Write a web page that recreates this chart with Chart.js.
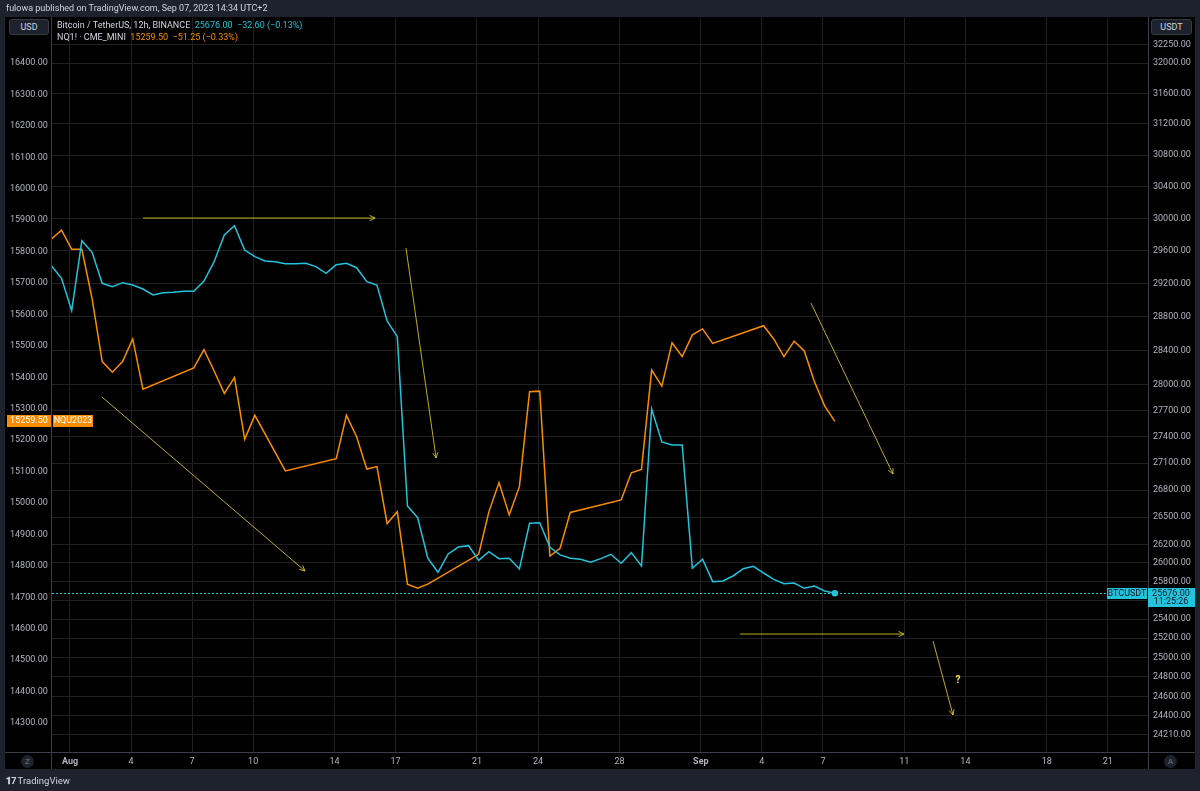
<!DOCTYPE html>
<html>
<head>
<meta charset="utf-8">
<script src="https://cdn.jsdelivr.net/npm/chart.js@4.4.0/dist/chart.umd.min.js"></script>
<style>
  body { margin: 0; background: #1e222d; font-family: Roboto, "Liberation Sans", Arial, sans-serif; }
  #wrap { position: relative; width: 1200px; height: 791px; overflow: hidden; }
  canvas { position: absolute; left: 0; top: 0; }
  .t { position: absolute; white-space: nowrap; font-size: 9px; line-height: 11px; color: #d1d4dc; }
  .box { position: absolute; border: 1px solid #363a45; background: #1e222d; border-radius: 3px;
         font-size: 9px; color: #d1d4dc; text-align: center; line-height: 14px; box-sizing: border-box; }
  .circ { position: absolute; width: 13px; height: 13px; border-radius: 50%; background: #1e222d;
          color: #787b86; font-size: 8px; line-height: 13px; text-align: center; }
</style>
</head>
<body>
<div id="wrap">
  <canvas id="chart" width="1200" height="791"></canvas>
  <div class="t" style="left:6px;top:3px;">fulowa published on TradingView.com, Sep 07, 2023 14:34 UTC+2</div>
  <div class="box" style="left:9px;top:19px;width:40px;height:16px;">USD</div>
  <div class="box" style="left:1151px;top:19px;width:41px;height:16px;">USDT</div>
  <div class="t" style="left:57px;top:20px;">Bitcoin / TetherUS, 12h, BINANCE&nbsp; <span style="color:#22c3dc">25676.00&nbsp; −32.60 (−0.13%)</span></div>
  <div class="t" style="left:57px;top:32px;">NQ1! · CME_MINI&nbsp; <span style="color:#fb8c00">15259.50&nbsp; −51.25 (−0.33%)</span></div>
  <div class="circ" style="left:21px;top:755px;">Z</div>
  <div class="circ" style="left:1164px;top:755px;">A</div>
  <div class="t" style="left:6px;top:775px;font-size:9.5px;"><b style="letter-spacing:-1px">𝟏7</b> TradingView</div>
</div>
<script>
// x values are days from Aug 1 00:00 (UTC+2); 12h bars start Jul 31 02:00
const firstBar = -0.917;
const barStep = 0.5;

// BTC/USDT 12h closes (right axis, log)
const btcClose = [29417, 29263, 28872, 29724, 29581, 29202, 29161, 29210, 29182, 29133,
  29061, 29089, 29094, 29105, 29105, 29230, 29466, 29794, 29909, 29609,
  29527, 29474, 29466, 29441, 29441, 29446, 29405, 29324, 29429, 29446,
  29392, 29222, 29182, 28749, 28562, 26623, 26494, 26051, 25900, 26098,
  26173, 26188, 26029, 26123, 26047, 26051, 25935, 26432, 26439, 26170,
  26087, 26051, 26040, 26008, 26047, 26094, 25997, 26112, 25968, 27717,
  27340, 27306, 27306, 25943, 26040, 25799, 25806, 25860, 25938, 25964,
  25892, 25824, 25777, 25785, 25728, 25753, 25699, 25676];

// NQ1! 12h closes (left axis), null where no bar (weekends)
const nqClose = [15840, 15868, 15807, 15807, 15651, 15450, 15416, 15450, 15522, 15362,
  null, null, null, null, 15430, 15488, 15420, 15349, 15399, 15203,
  15279, null, null, 15102, null, null, null, null, 15141, 15279,
  15211, 15108, 15116, 14935, 14972, 14742, 14729, 14742, null, null,
  null, null, 14837, 14972, 15065, 14962, 15052, 15354, 15356, 14831,
  14856, 14970, null, null, null, null, 15010, 15096, 15107, 15423,
  15372, 15510, 15466, 15535, 15554, 15508, null, null, null, null,
  15564, 15522, 15466, 15515, 15484, 15386, 15309, 15259.5];

const dateTicks = [0, 3, 6, 9, 13, 16, 20, 23, 27, 31, 34, 37, 41, 44, 48, 51];
const dateLabels = ['Aug', '4', '7', '10', '14', '17', '21', '24', '28', 'Sep', '4', '7', '11', '14', '18', '21'];

const nqTicks = [16400, 16300, 16200, 16100, 16000, 15900, 15800, 15700, 15600, 15500, 15400,
  15300, 15200, 15100, 15000, 14900, 14800, 14700, 14600, 14500, 14400, 14300];
const btcTicks = [32250, 32000, 31600, 31200, 30800, 30400, 30000, 29600, 29200, 28800, 28400,
  28000, 27700, 27400, 27100, 26800, 26500, 26200, 26000, 25800, 25600, 25400, 25200, 25000,
  24800, 24600, 24400, 24210];

// hand-drawn arrows: [day, BTC price] start -> end
const arrowFrom = [[3.59, 30005], [1.57, 27856], [16.51, 29634], [36.41, 28964], [32.92, 25244], [42.41, 25171]];
const arrowTo = [[14.99, 30005], [11.55, 25914], [17.99, 27159], [40.44, 26979], [40.98, 25244], [43.39, 24409]];
const questionMark = [43.64, 24766];

const CYAN = '#22c3dc';
const ORANGE = '#fb8c00';
const GRID = '#202020';
const AXIS = '#3a3e48';
const FONT = 'Roboto, "Liberation Sans", Arial, sans-serif';

const btcPoints = btcClose.map((v, i) => ({ x: firstBar + i * barStep, y: v }));
const nqPoints = nqClose.map((v, i) => ({ x: firstBar + i * barStep, y: v }));

function drawArrow(ctx, x1, y1, x2, y2) {
  const a = Math.atan2(y2 - y1, x2 - x1);
  ctx.beginPath();
  ctx.moveTo(x1, y1);
  ctx.lineTo(x2, y2);
  ctx.moveTo(x2 - 6 * Math.cos(a - 0.45), y2 - 6 * Math.sin(a - 0.45));
  ctx.lineTo(x2, y2);
  ctx.lineTo(x2 - 6 * Math.cos(a + 0.45), y2 - 6 * Math.sin(a + 0.45));
  ctx.stroke();
}

const tvPlugin = {
  id: 'tv',
  beforeDraw(chart) {
    const ctx = chart.ctx;
    ctx.save();
    ctx.fillStyle = '#1e222d';
    ctx.fillRect(0, 0, chart.width, chart.height);
    ctx.fillStyle = '#000';
    ctx.fillRect(5, 17, 1190, 752);
    ctx.restore();
  },
  afterDatasetsDraw(chart) {
    const { ctx, chartArea, scales } = chart;
    const x = scales.x, yb = scales.yBtc;
    ctx.save();
    // last price line
    const ly = Math.round(yb.getPixelForValue(btcClose[btcClose.length - 1])) + 0.5;
    ctx.strokeStyle = CYAN;
    ctx.lineWidth = 1;
    ctx.setLineDash([2, 2]);
    ctx.beginPath();
    ctx.moveTo(chartArea.left, ly);
    ctx.lineTo(chartArea.right, ly);
    ctx.stroke();
    ctx.setLineDash([]);
    // arrows
    ctx.strokeStyle = 'rgba(235, 215, 40, 0.8)';
    ctx.lineWidth = 1;
    arrowFrom.forEach((p, i) => {
      const q = arrowTo[i];
      drawArrow(ctx, x.getPixelForValue(p[0]), yb.getPixelForValue(p[1]),
        x.getPixelForValue(q[0]), yb.getPixelForValue(q[1]));
    });
    ctx.fillStyle = '#f5e33b';
    ctx.font = 'bold 10px ' + FONT;
    ctx.textAlign = 'center';
    ctx.textBaseline = 'middle';
    ctx.fillText('?', x.getPixelForValue(questionMark[0]), yb.getPixelForValue(questionMark[1]));
    ctx.restore();
  },
  afterDraw(chart) {
    const { ctx, chartArea, scales } = chart;
    ctx.save();
    // separators
    ctx.strokeStyle = AXIS;
    ctx.lineWidth = 1;
    ctx.beginPath();
    ctx.moveTo(chartArea.left - 0.5, 17); ctx.lineTo(chartArea.left - 0.5, 769);
    ctx.moveTo(chartArea.right + 0.5, 17); ctx.lineTo(chartArea.right + 0.5, 769);
    ctx.moveTo(5, chartArea.bottom + 0.5); ctx.lineTo(1195, chartArea.bottom + 0.5);
    ctx.stroke();

    ctx.font = '9px ' + FONT;
    ctx.textBaseline = 'middle';
    // NQ last price label
    const ny = Math.round(scales.yNq.getPixelForValue(nqClose[nqClose.length - 1]));
    ctx.fillStyle = ORANGE;
    ctx.fillRect(7, ny - 6, 44, 12);
    ctx.fillRect(53, ny - 6, 40, 12);
    ctx.fillStyle = '#fff';
    ctx.textAlign = 'center';
    ctx.fillText('15259.50', 29, ny);
    ctx.fillText('NQU2023', 73, ny);
    // BTC last price label
    const by = Math.round(scales.yBtc.getPixelForValue(btcClose[btcClose.length - 1]));
    ctx.fillStyle = CYAN;
    ctx.fillRect(1148, by - 5, 47, 19);
    ctx.fillRect(1107, by - 5, 40, 11);
    ctx.fillStyle = '#131722';
    ctx.fillText('25676.00', 1171, by + 1);
    ctx.fillText('11:25:26', 1171, by + 9);
    ctx.fillText('BTCUSDT', 1127, by + 1);
    ctx.restore();
  }
};

new Chart(document.getElementById('chart'), {
  type: 'line',
  data: {
    datasets: [
      {
        label: 'BTCUSDT',
        data: btcPoints,
        yAxisID: 'yBtc',
        borderColor: CYAN,
        backgroundColor: CYAN,
        borderWidth: 1.5,
        tension: 0,
        pointRadius: ctx => ctx.dataIndex === btcClose.length - 1 ? 2.5 : 0,
        order: 1
      },
      {
        label: 'NQ1!',
        data: nqPoints,
        yAxisID: 'yNq',
        borderColor: ORANGE,
        backgroundColor: ORANGE,
        borderWidth: 1.5,
        tension: 0,
        spanGaps: true,
        pointRadius: 0,
        order: 2
      }
    ]
  },
  options: {
    responsive: false,
    animation: false,
    devicePixelRatio: 1,
    layout: { padding: { left: 10, right: 5, top: 18, bottom: 22 } },
    plugins: { legend: { display: false }, tooltip: { enabled: false } },
    scales: {
      x: {
        type: 'linear',
        min: -0.8845,
        max: 52.973,
        afterBuildTicks: s => { s.ticks = dateTicks.map(v => ({ value: v })); },
        afterFit: s => { s.height = 17; },
        grid: { color: GRID, drawTicks: false },
        border: { display: false },
        ticks: {
          autoSkip: false,
          maxRotation: 0,
          padding: 4,
          color: '#b2b5be',
          font: c => ({ family: FONT, size: 9, weight: (c.tick && (c.tick.value === 0 || c.tick.value === 31)) ? 'bold' : 'normal' }),
          callback: v => dateLabels[dateTicks.indexOf(v)]
        }
      },
      yNq: {
        type: 'linear',
        position: 'left',
        min: 14208,
        max: 16543,
        afterBuildTicks: s => { s.ticks = nqTicks.map(v => ({ value: v })); },
        afterFit: s => { s.width = 42; },
        grid: { display: false },
        border: { display: false },
        ticks: { autoSkip: false, crossAlign: 'far', padding: 0, color: '#b2b5be', font: { family: FONT, size: 9 }, callback: v => v.toFixed(2) }
      },
      yBtc: {
        type: 'logarithmic',
        position: 'right',
        min: 24037,
        max: 32604,
        afterBuildTicks: s => { s.ticks = btcTicks.map(v => ({ value: v })); },
        afterFit: s => { s.width = 47; },
        grid: { color: GRID, drawTicks: false },
        border: { display: false },
        ticks: { autoSkip: false, padding: 5, color: '#b2b5be', font: { family: FONT, size: 9 }, callback: v => Number(v).toFixed(2) }
      }
    }
  },
  plugins: [tvPlugin]
});
</script>
</body>
</html>
